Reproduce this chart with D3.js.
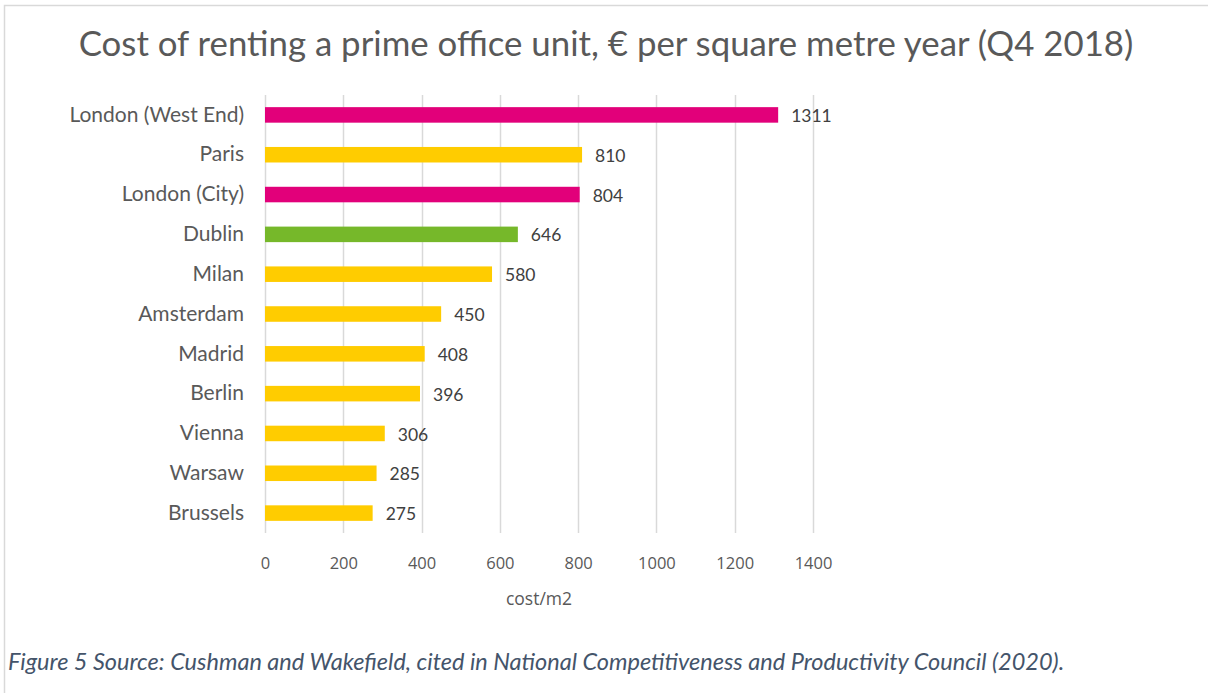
<!DOCTYPE html>
<html>
<head>
<meta charset="utf-8">
<script src="https://cdn.jsdelivr.net/npm/d3@7"></script>
<style>
  body { margin: 0; background: #fff; }
  svg { display: block; }
</style>
</head>
<body>
<div class="chart"></div>
<script>
// chart data
var cities = ["London (West End)", "Paris", "London (City)", "Dublin", "Milan", "Amsterdam",
  "Madrid", "Berlin", "Vienna", "Warsaw", "Brussels"];
var costs = [1311, 810, 804, 646, 580, 450, 408, 396, 306, 285, 275];
var groups = ["UK", "Other", "UK", "Ireland", "Other", "Other", "Other", "Other", "Other", "Other", "Other"];
var xTicks = [0, 200, 400, 600, 800, 1000, 1200, 1400];

var data = cities.map((c, i) => ({ city: c, cost: costs[i], group: groups[i] }));

// SVG container
var svgWidth = 1208;
var svgHeight = 693;

var margin = { top: 95, right: 395, bottom: 160, left: 265 };
var width = svgWidth - margin.left - margin.right;
var height = svgHeight - margin.top - margin.bottom;

var svg = d3.select(".chart")
  .append("svg")
  .attr("width", svgWidth)
  .attr("height", svgHeight);

// light frame round the chart
svg.append("path")
  .attr("d", "M4.5,693 V5.5 H1208")
  .attr("fill", "none")
  .attr("stroke", "#d9d9d9")
  .attr("stroke-width", 1.5);

// title
svg.append("text")
  .attr("x", 606)
  .attr("y", 56)
  .attr("text-anchor", "middle")
  .attr("font-family", "Lato, sans-serif")
  .attr("font-size", "34.8px")
  .attr("fill", "#595959")
  .text("Cost of renting a prime office unit, € per square metre year (Q4 2018)");

var chartGroup = svg.append("g")
  .attr("transform", `translate(${margin.left}, ${margin.top})`);

// scales
var xScale = d3.scaleLinear()
  .domain([0, 1400])
  .range([0, width]);

var yScale = d3.scaleBand()
  .domain(cities)
  .range([0, height])
  .paddingInner(0.61)
  .paddingOuter(0.305);

var colour = d3.scaleOrdinal()
  .domain(["UK", "Other", "Ireland"])
  .range(["#e2007a", "#ffcc00", "#76b82a"]);

// vertical gridlines
chartGroup.append("g")
  .selectAll("line")
  .data(xTicks)
  .enter()
  .append("line")
  .attr("x1", d => Math.round(xScale(d)) + 0.5)
  .attr("x2", d => Math.round(xScale(d)) + 0.5)
  .attr("y1", 0)
  .attr("y2", height)
  .attr("stroke", "#d9d9d9")
  .attr("stroke-width", 1.5);

// x axis (labels only)
var xAxis = d3.axisBottom(xScale)
  .tickValues(xTicks)
  .tickFormat(d3.format("d"))
  .tickSize(0)
  .tickPadding(24);

var xAxisG = chartGroup.append("g")
  .attr("transform", `translate(0, ${height})`)
  .call(xAxis);
xAxisG.select(".domain").remove();
xAxisG.selectAll("text")
  .attr("font-family", "'Open Sans', sans-serif")
  .attr("font-size", "16.5px")
  .attr("fill", "#595959");

// y axis (category labels)
var yAxis = d3.axisLeft(yScale)
  .tickSize(0)
  .tickPadding(21);

var yAxisG = chartGroup.append("g").call(yAxis);
yAxisG.select(".domain").remove();
yAxisG.selectAll("text")
  .attr("font-family", "Lato, sans-serif")
  .attr("font-size", "21px")
  .attr("fill", "#595959");

// bars
chartGroup.selectAll("rect.bar")
  .data(data)
  .enter()
  .append("rect")
  .attr("class", "bar")
  .attr("x", xScale(0))
  .attr("y", d => yScale(d.city))
  .attr("width", d => xScale(d.cost) - xScale(0))
  .attr("height", yScale.bandwidth())
  .attr("fill", d => colour(d.group));

// value labels
chartGroup.selectAll("text.value")
  .data(data)
  .enter()
  .append("text")
  .attr("class", "value")
  .attr("x", d => xScale(d.cost) + 13)
  .attr("y", d => yScale(d.city) + yScale.bandwidth() / 2 + 1)
  .attr("dy", "0.35em")
  .attr("font-family", "Lato, sans-serif")
  .attr("font-size", "17.5px")
  .attr("fill", "#404040")
  .text(d => d.cost);

// x label
chartGroup.append("text")
  .attr("x", width / 2)
  .attr("y", height + 72)
  .attr("text-anchor", "middle")
  .attr("font-family", "'Open Sans', sans-serif")
  .attr("font-size", "17.5px")
  .attr("fill", "#595959")
  .text("cost/m2");

// source caption
svg.append("text")
  .attr("x", 8)
  .attr("y", 670)
  .attr("font-family", "Lato, sans-serif")
  .attr("font-style", "italic")
  .attr("font-size", "23.5px")
  .attr("fill", "#44546a")
  .text("Figure 5 Source: Cushman and Wakefield, cited in National Competitiveness and Productivity Council (2020).");
</script>
</body>
</html>
